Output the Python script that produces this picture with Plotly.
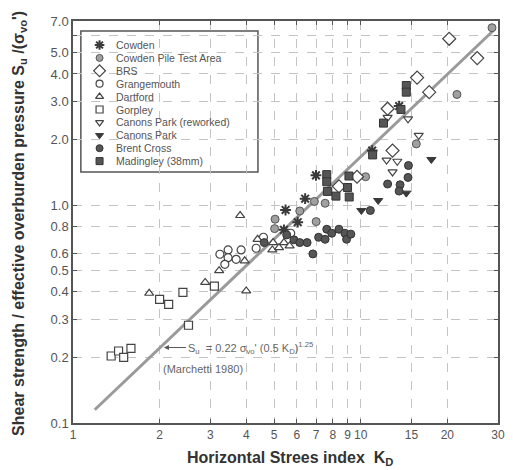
import math
import plotly.graph_objects as go

# ---------------- data ----------------
cowden_kd = [6.99, 6.41, 5.48, 6.04, 5.41, 13.6, 10.96]
cowden_su = [1.37, 1.07, 0.95, 0.835, 0.77, 2.85, 1.78]

cpta_kd = [28.6, 21.6, 15.6, 10.4, 6.9, 7.52, 6.14, 7.0, 5.04, 5.02]
cpta_su = [6.52, 3.22, 1.91, 1.35, 1.04, 1.02, 0.94, 0.84, 0.862, 0.78]

brs_kd = [20.3, 25.4, 15.7, 17.3, 12.4, 12.9, 9.71, 8.4]
brs_su = [5.8, 4.73, 3.85, 3.3, 2.77, 1.78, 1.35, 1.22]

grange_kd = [5.71, 4.59, 4.33, 3.84, 3.46, 3.24, 3.46, 3.69, 3.37]
grange_su = [0.743, 0.712, 0.634, 0.623, 0.623, 0.595, 0.574, 0.564, 0.535]

dart_kd = [3.81, 1.84, 2.88, 3.22, 3.95, 4.0, 4.38, 4.93, 5.2, 4.96, 5.41, 5.66]
dart_su = [0.896, 0.394, 0.442, 0.50, 0.555, 0.404, 0.697, 0.623, 0.638, 0.673, 0.673, 0.65]

gorp_kd = [1.357, 1.44, 1.5, 1.59, 2.0, 2.15, 2.41, 2.52, 3.1]
gorp_su = [0.203, 0.214, 0.20, 0.22, 0.369, 0.35, 0.398, 0.281, 0.425]

cpr_kd = [15.9, 14.6, 12.4, 12.3, 13.4, 12.9]
cpr_su = [2.09, 2.49, 2.53, 1.61, 1.59, 1.42]

cp_kd = [17.6, 14.4, 11.5, 10.05]
cp_su = [1.62, 1.135, 1.05, 0.945]

brent_kd = [14.65, 14.6, 12.4, 13.7, 13.6, 10.8, 6.82, 4.62, 5.53, 5.86, 6.14,
            6.51, 7.14, 7.52, 7.62, 7.93, 8.4, 8.81, 8.93, 9.24]
brent_su = [1.52, 1.34, 1.25, 1.24, 1.16, 0.945, 0.597, 0.673, 0.73, 0.693, 0.673,
            0.673, 0.712, 0.697, 0.775, 0.743, 0.775, 0.743, 0.697, 0.736]

mad_kd = [14.4, 14.4, 13.8, 12.0, 11.0, 7.62, 7.62, 7.66, 8.2, 9.1, 9.0, 9.12]
mad_su = [3.54, 3.3, 2.75, 2.38, 1.7, 1.38, 1.28, 1.156, 1.10, 1.36, 1.205, 1.09]

line_kd = [1.19, 28.8]
line_su = [0.115, 6.3]

series_names = ["Cowden", "Cowden Pile Test Area", "BRS", "Grangemouth", "Dartford",
                "Gorpley", "Canons Park (reworked)", "Canons Park", "Brent Cross",
                "Madingley (38mm)"]

x_tickvals = [1, 2, 3, 4, 5, 6, 7, 8, 9, 10, 15, 20, 30]
x_ticktext = ["1", "2", "3", "4", "5", "6", "7", "8", "9", "10", "15", "20", "30"]
y_tickvals = [0.1, 0.2, 0.3, 0.4, 0.5, 0.6, 0.8, 1, 2, 3, 4, 5, 6, 7]
y_ticktext = ["0.1", "0.2", "0.3", "0.4", "0.5", "0.6", "0.8", "1.0", "2.0", "3.0",
              "4.0", "5.0", "", "7.0"]

# ---------------- styles ----------------
FONT = "Liberation Sans, Arial, sans-serif"
DARK = "#3a3a3a"
styles = [
    dict(symbol="asterisk-open", size=9, color=DARK, line=dict(color=DARK, width=2)),
    dict(symbol="circle", size=8, color="#a0a0a0", line=dict(color="#555555", width=1)),
    dict(symbol="diamond", size=10, color="white", line=dict(color="#444444", width=1.2)),
    dict(symbol="circle", size=8, color="white", line=dict(color="#444444", width=1.2)),
    dict(symbol="triangle-up", size=8, color="white", line=dict(color="#444444", width=1.2)),
    dict(symbol="square", size=8, color="white", line=dict(color="#444444", width=1.2)),
    dict(symbol="triangle-down", size=8, color="white", line=dict(color="#444444", width=1.2)),
    dict(symbol="triangle-down", size=8, color=DARK, line=dict(color=DARK, width=1)),
    dict(symbol="circle", size=8, color="#555555", line=dict(color="#333333", width=1)),
    dict(symbol="square", size=8, color="#555555", line=dict(color="#333333", width=1)),
]
data = [(cowden_kd, cowden_su), (cpta_kd, cpta_su), (brs_kd, brs_su),
        (grange_kd, grange_su), (dart_kd, dart_su), (gorp_kd, gorp_su),
        (cpr_kd, cpr_su), (cp_kd, cp_su), (brent_kd, brent_su), (mad_kd, mad_su)]

fig = go.Figure()
fig.add_trace(go.Scatter(x=line_kd, y=line_su, mode="lines",
                         line=dict(color="#9a9a9a", width=3), showlegend=False,
                         hoverinfo="skip"))
for name, (kx, sy), st in zip(series_names, data, styles):
    fig.add_trace(go.Scatter(x=kx, y=sy, mode="markers", name=name, marker=st,
                             showlegend=False))

# ---------------- custom legend (compact, as in the original) ----------------
W, H = 513, 470
ML, MR, MT, MB = 73, 8, 21, 47
PW, PH = W - ML - MR, H - MT - MB


def px_x(p):
    return (p - ML) / PW


def px_y(p):
    return (H - MB - p) / PH


leg_y = [px_y(45 + 12.9 * i) for i in range(len(series_names))]
for i, (name, st) in enumerate(zip(series_names, styles)):
    ms = dict(st)
    ms["size"] = max(st["size"] - 1, 7)
    fig.add_trace(go.Scatter(x=[px_x(100)], y=[leg_y[i]], mode="markers", marker=ms,
                             xaxis="x2", yaxis="y2", showlegend=False, hoverinfo="skip"))
    fig.add_annotation(x=px_x(115), y=leg_y[i], xref="paper", yref="paper",
                       text=name, showarrow=False, xanchor="left", yanchor="middle",
                       font=dict(family=FONT, size=10.5, color="#555555"))

fig.add_shape(type="rect", xref="paper", yref="paper",
              x0=px_x(81), x1=px_x(261), y0=px_y(172), y1=px_y(31),
              line=dict(color="#555555", width=1.5), fillcolor="white", layer="below")

# equation + reference
fig.add_annotation(x=math.log10(2.07), y=math.log10(0.222), xref="x", yref="y",
                   text="S<sub>u</sub>  = 0.22 σ<sub>vo</sub>' (0.5 K<sub>D</sub>)<sup>1.25</sup>",
                   showarrow=True, ax=22, ay=0, xanchor="left", yanchor="middle",
                   arrowhead=2, arrowsize=1, arrowwidth=1, arrowcolor="#555555",
                   font=dict(family=FONT, size=11, color="#666666"))
fig.add_annotation(x=px_x(205), y=px_y(369), xref="paper", yref="paper",
                   text="(Marchetti 1980)", showarrow=False,
                   xanchor="center", yanchor="middle",
                   font=dict(family=FONT, size=11, color="#666666"))

# axis titles
fig.add_annotation(x=px_x(294), y=px_y(458), xref="paper", yref="paper",
                   text="<b>Horizontal Strees index  K<sub>D</sub></b>", showarrow=False,
                   xanchor="center", yanchor="middle",
                   font=dict(family=FONT, size=16, color="#333333"))
fig.add_annotation(x=px_x(18), y=px_y(223), xref="paper", yref="paper",
                   text="<b>Shear strength / effective overburden pressure S<sub>u</sub> /(σ<sub>vo</sub>')</b>",
                   showarrow=False, textangle=-90, xanchor="center", yanchor="middle",
                   font=dict(family=FONT, size=16, color="#333333"))

axis_common = dict(showline=True, linecolor="#555555", linewidth=1.5, mirror="ticks",
                   ticks="inside", ticklen=4, tickcolor="#555555",
                   showgrid=True, gridcolor="#c4c4c4", griddash="dash", gridwidth=1,
                   zeroline=False)

fig.update_layout(
    width=W, height=H, margin=dict(l=ML, r=MR, t=MT, b=MB),
    paper_bgcolor="white", plot_bgcolor="white",
    font=dict(family=FONT, color="#444444"),
    xaxis=dict(type="log", range=[0, math.log10(30)], tickvals=x_tickvals,
               ticktext=x_ticktext, tickfont=dict(size=12, color="#555555"),
               **axis_common),
    yaxis=dict(type="log", range=[-1, math.log10(7)], tickvals=y_tickvals,
               ticktext=y_ticktext, tickfont=dict(size=13, color="#555555"),
               **axis_common),
    xaxis2=dict(overlaying="x", range=[0, 1], visible=False, anchor="y2"),
    yaxis2=dict(overlaying="y", range=[0, 1], visible=False, anchor="x2"),
    showlegend=False,
)

fig.write_html("out.html", config={"displayModeBar": False},
               post_script="document.body.style.margin='0';document.body.style.overflow='hidden';")
